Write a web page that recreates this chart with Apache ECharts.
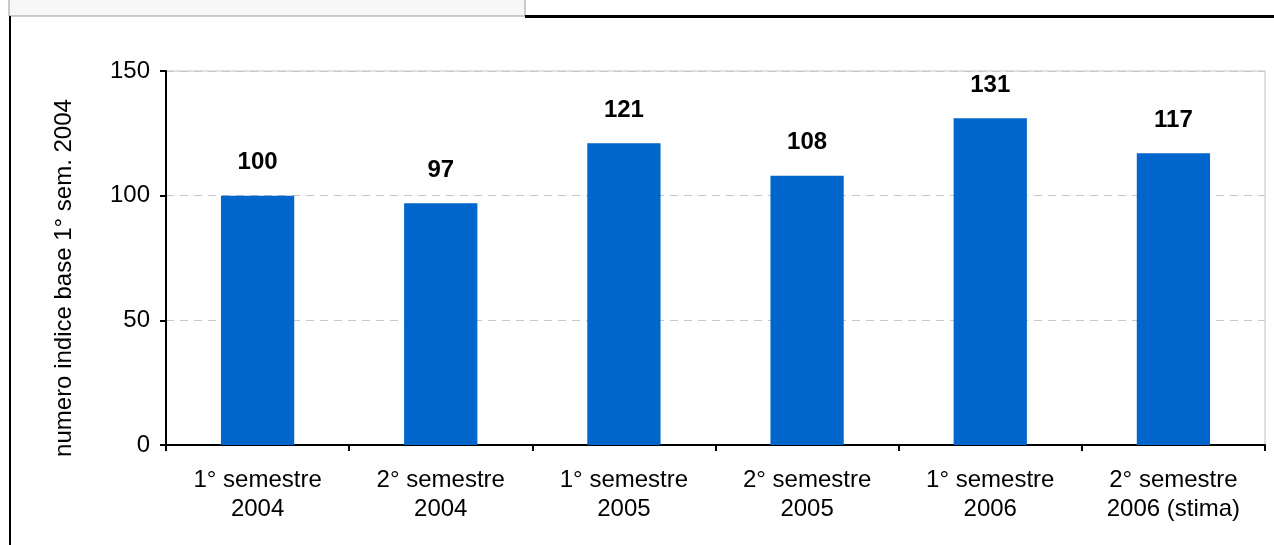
<!DOCTYPE html>
<html>
<head>
<meta charset="utf-8">
<script src="https://cdn.jsdelivr.net/npm/echarts@6/dist/echarts.min.js"></script>
<style>html,body{margin:0;padding:0;background:#fff;}#c{width:1274px;height:545px;}</style>
</head>
<body>
<div id="c"></div>
<script>
const categories = ['1° semestre\n2004', '2° semestre\n2004', '1° semestre\n2005', '2° semestre\n2005', '1° semestre\n2006', '2° semestre\n2006 (stima)'];
const values = [100, 97, 121, 108, 131, 117];
const yAxisName = 'numero indice base 1° sem. 2004';

const FONT = 'Liberation Sans, Arial, sans-serif';
const chart = echarts.init(document.getElementById('c'), null, {renderer: 'canvas'});
chart.setOption({
  backgroundColor: '#fff',
  animation: false,
  textStyle: {fontFamily: FONT},
  grid: {left: 166, right: 9, top: 71, bottom: 100, show: true, borderColor: '#c0c0c0', borderWidth: 1, backgroundColor: 'transparent'},
  xAxis: {
    type: 'category',
    data: categories,
    axisLine: {lineStyle: {color: '#000', width: 2}},
    axisTick: {show: true, length: 6, lineStyle: {color: '#000', width: 2}},
    axisLabel: {fontSize: 24, color: '#000', lineHeight: 29, margin: 21, interval: 0, fontFamily: FONT},
    splitLine: {show: false}
  },
  yAxis: {
    type: 'value',
    min: 0, max: 150, interval: 50,
    name: yAxisName,
    nameLocation: 'middle',
    nameGap: 90,
    nameTextStyle: {fontSize: 24, color: '#000', fontFamily: FONT, padding: [0, 40, 0, 0]},
    axisLine: {show: true, lineStyle: {color: '#000', width: 2}},
    axisTick: {show: true, length: 6, lineStyle: {color: '#000', width: 2}},
    axisLabel: {fontSize: 24, color: '#000', margin: 16, fontFamily: FONT},
    splitLine: {show: true, lineStyle: {color: '#c8c8c8', type: [8, 6], width: 1}}
  },
  series: [{
    type: 'bar',
    data: values,
    barWidth: '40%',
    itemStyle: {color: '#0066CC'},
    label: {show: true, position: 'top', distance: 21, fontSize: 24, fontWeight: 'bold', color: '#000', fontFamily: FONT}
  }],
  graphic: [
    {type: 'rect', shape: {x: 9, y: -2, width: 516, height: 18}, style: {fill: '#f7f7f7', stroke: '#999', lineWidth: 1}, z: 10},
    {type: 'line', shape: {x1: 525, y1: 16.5, x2: 1274, y2: 16.5}, style: {stroke: '#000', lineWidth: 3}, z: 10},
    {type: 'line', shape: {x1: 10, y1: 16, x2: 10, y2: 545}, style: {stroke: '#000', lineWidth: 2}, z: 10}
  ]
});
</script>
</body>
</html>
